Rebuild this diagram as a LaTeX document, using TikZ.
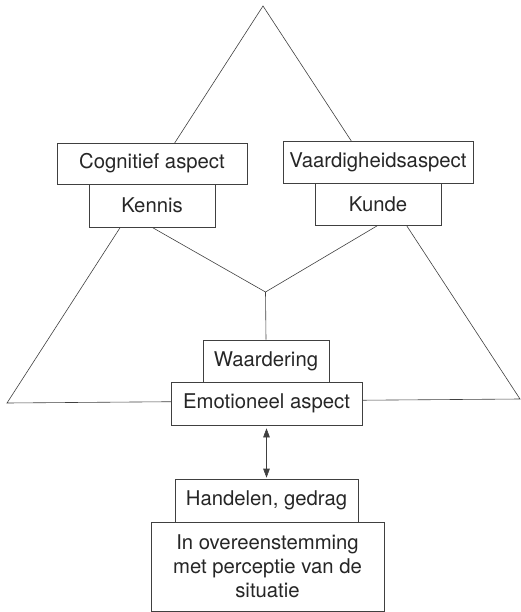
\documentclass[tikz,border=0pt]{standalone}
\usepackage{fontspec}
\setmainfont{TeX Gyre Heros}
\usetikzlibrary{arrows.meta}
\begin{document}
\begin{tikzpicture}[x=1pt,y=-1pt,
  line/.style={draw=black!75, line width=0.6pt},
  box/.style={draw=black!75, line width=0.6pt, fill=white, inner sep=0pt, align=center,
    text=black!85, font=\fontsize{20.3}{24}\selectfont},
]
\useasboundingbox (0,0) rectangle (521,612);
% triangle
\coordinate (apex) at (263,6);
\coordinate (lc) at (7,403);
\coordinate (rc) at (520,399);
\draw[line] (lc) -- (apex) -- (rc) -- cycle;
% inner Y
\coordinate (mid) at (265.5,292);
% boxes
\node[box, minimum width=190pt, minimum height=41pt] (cog) at (152,163.5) {Cognitief aspect};
\node[box, minimum width=126pt, minimum height=43pt] (ken) at (152,205.5) {Kennis};
\node[box, minimum width=190pt, minimum height=42pt] (vaa) at (378,162) {Vaardigheidsaspect};
\node[box, minimum width=126pt, minimum height=42pt] (kun) at (378,204) {Kunde};
\node[box, minimum width=126pt, minimum height=42pt] (waa) at (266,361) {Waardering};
\node[box, minimum width=191pt, minimum height=43pt] (emo) at (266.5,403.5) {Emotioneel aspect};
\node[box, minimum width=183pt, minimum height=43pt] (han) at (266.5,500.5) {Handelen, gedrag};
\node[box, minimum width=233pt, minimum height=89pt] (ovr) at (267.5,566.5) {In overeenstemming\\met perceptie van de\\situatie};
% Y connectors
\draw[line] (ken.south) -- (mid) -- (kun.south);
\draw[line] (mid) -- (waa.north);
% redraw cog and vaa on top of lines
\node[box, minimum width=190pt, minimum height=41pt] at (cog) {Cognitief aspect};
\node[box, minimum width=190pt, minimum height=42pt] at (vaa) {Vaardigheidsaspect};
% arrow
\draw[line, {Triangle[length=9pt,width=6.5pt]}-{Triangle[length=9pt,width=6.5pt]}, shorten <=3pt, shorten >=1pt]
  (emo.south) -- (han.north);
\end{tikzpicture}
\end{document}
